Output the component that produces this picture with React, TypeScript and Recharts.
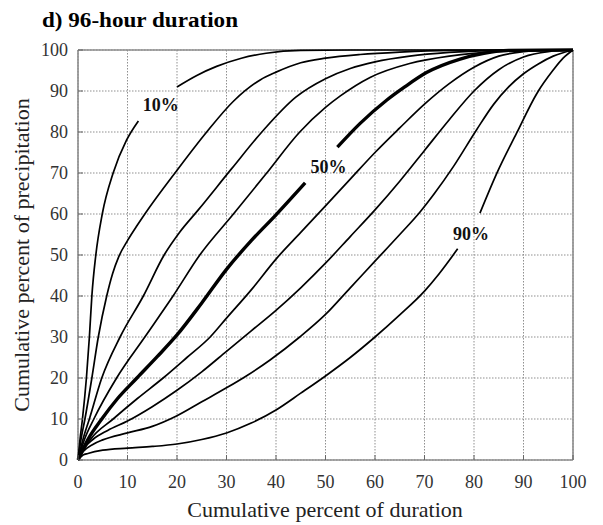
import {
  LineChart,
  Line,
  XAxis,
  YAxis,
  CartesianGrid,
  ReferenceDot,
} from "recharts";

type Pt = [number, number | null];

const FONT = '"Liberation Serif", "Times New Roman", serif';

const xTicks = [0, 10, 20, 30, 40, 50, 60, 70, 80, 90, 100];
const yTicks = [0, 10, 20, 30, 40, 50, 60, 70, 80, 90, 100];
const edges = [0, 100];

// cumulative curves, one per quantile (null = gap left for the label)
const p10: Pt[] = [
  [0, 0], [0.4, 5], [0.9, 10], [1.7, 20], [2.3, 30], [2.8, 40], [3.6, 50], [4.9, 60],
  [7.1, 70], [9.8, 78], [12.2, 82.7], [16, null], [20, 91], [24, 93.8], [28, 96],
  [33, 98], [38, 99.2], [45, 99.9], [55, 100], [100, 100],
];
const p20: Pt[] = [
  [0, 0], [0.6, 5], [1.4, 10], [2.8, 20], [4.1, 30], [5.8, 40], [7, 45.5], [8.2, 49.5],
  [10, 53.5], [12, 57.3], [13.5, 60], [19.9, 70.5], [26, 80], [31.4, 87.5], [36.8, 92.7],
  [40, 94.6], [45, 96.9], [50, 98], [57, 98.9], [65, 99.5], [75, 99.9], [100, 100],
];
const p30: Pt[] = [
  [0, 0], [1, 5], [2.3, 10], [4.8, 20], [8.5, 30], [13.2, 40], [17.4, 50], [20.5, 55.5],
  [24.3, 61], [31, 71], [37.5, 80.5], [44, 88.5], [50, 93], [55, 95.5], [60, 97.1],
  [67, 98.5], [75, 99.4], [85, 99.9], [100, 100],
];
const p40: Pt[] = [
  [0, 0], [1.3, 5], [3.2, 10], [7.8, 20], [13.5, 30], [19.2, 40], [24.6, 50], [31.4, 60],
  [38, 69.8], [44.8, 80], [50, 86], [53, 88.8], [59, 93.3], [67, 96.7], [75, 98.5],
  [85, 99.6], [100, 100],
];
const p50: Pt[] = [
  [0, 0], [2, 5], [4.8, 10], [8, 15], [11.9, 20], [16, 25.2], [20, 30.5], [25, 38.3],
  [30, 46.5], [35, 53.5], [40, 59.8], [45.9, 67.6], [49, null], [52.4, 76.3], [57, 82.1],
  [62.4, 87.8], [66, 91], [70.4, 94.5], [77.2, 97.8], [82, 99.2], [87, 99.9], [100, 100],
];
const p60: Pt[] = [
  [0, 0], [2.5, 5], [7.1, 10], [12, 15], [17.2, 20], [22, 25], [26.7, 30], [30, 34.6],
  [35, 41.5], [40, 49], [45, 55.5], [50, 62], [55, 68.5], [60, 75], [65, 81], [70, 86.8],
  [75, 91.8], [80, 95.8], [85, 98.5], [90, 99.6], [95, 100], [100, 100],
];
const p70: Pt[] = [
  [0, 0], [1, 2.5], [3, 5], [6, 7.2], [10, 9.5], [15, 13], [20, 17], [25, 21.5],
  [30, 26.5], [35, 31.5], [40, 36.5], [45, 42], [50, 48], [55, 54.5], [60, 61], [65, 68],
  [70, 75.5], [75, 83], [80, 90], [85, 95.2], [90, 98.3], [95, 99.6], [100, 100],
];
const p80: Pt[] = [
  [0, 0], [1, 2], [3, 3.8], [5, 4.9], [10, 6.6], [15, 8.2], [20, 10.8], [25, 14.2],
  [30, 17.6], [34, 20.5], [38.8, 24.4], [44.8, 30], [50, 35.5], [55, 42],
  [60, 48.5], [65, 55], [69.1, 60.5], [72, 65], [75.8, 71.5], [80.5, 80.5], [84, 86.8],
  [87, 91], [90, 94.2], [93, 96.6], [96, 98.5], [100, 100],
];
const p90: Pt[] = [
  [0, 0], [1, 1.2], [2, 1.6], [5, 2.4], [10, 2.9], [15, 3.3], [20, 3.9], [25, 5],
  [30, 6.6], [35, 9], [40, 12.2], [45, 16.3], [50, 20.5], [55, 25], [60, 30], [65, 35.4],
  [70, 41.2], [73, 45.5], [76.7, 51.5], [79, null], [81.2, 60.2], [84.6, 69.9], [88.6, 79.7],
  [92.7, 89.4], [96, 95.1], [98, 98], [100, 100],
];

const curveNames = ["10%", "20%", "30%", "40%", "50%", "60%", "70%", "80%", "90%"];
const curvePoints = [p10, p20, p30, p40, p50, p60, p70, p80, p90];

// labelled quantiles and where their text sits (data units)
const labelText = ["10%", "50%", "90%"];
const labelX = [16.7, 50.6, 79.4];
const labelY = [86.7, 71.6, 55.3];

const toRows = (pts: Pt[]) => pts.map(([x, y]) => ({ x, y }));
const frameRows = xTicks.map((x) => ({ x }));

export default function App() {
  return (
    <div
      style={{
        position: "absolute",
        left: 0,
        top: 0,
        width: 603,
        height: 525,
        background: "#fff",
      }}
    >
      <LineChart
        width={603}
        height={525}
        data={frameRows}
        margin={{ top: 50, right: 30, bottom: 0, left: 0 }}
      >
        <CartesianGrid stroke="#8f8f8f" strokeWidth={1} strokeDasharray="1.5 1.5" />
        {/* box around the plot */}
        <CartesianGrid
          stroke="#8c8c8c"
          strokeWidth={1.6}
          horizontalValues={edges}
          verticalValues={edges}
        />
        <XAxis
          dataKey="x"
          type="number"
          domain={[0, 100]}
          ticks={xTicks}
          height={65}
          axisLine={false}
          tickSize={-5}
          tickMargin={20}
          tickLine={{ stroke: "#666" }}
          tick={{ fontFamily: FONT, fontSize: 18, fill: "#333" }}
        />
        <YAxis
          type="number"
          domain={[0, 100]}
          ticks={yTicks}
          width={78}
          axisLine={false}
          tickSize={-5}
          tickMargin={15}
          tickLine={{ stroke: "#666" }}
          tick={{ fontFamily: FONT, fontSize: 18, fill: "#333" }}
        />
        {curvePoints.map((pts, i) => (
          <Line
            key={curveNames[i]}
            name={curveNames[i]}
            data={toRows(pts)}
            dataKey="y"
            type="monotone"
            stroke="#000"
            strokeWidth={curveNames[i] === "50%" ? 3.4 : 1.7}
            dot={false}
            activeDot={false}
            isAnimationActive={false}
          />
        ))}
        {labelText.map((t, i) => (
          <ReferenceDot
            key={t}
            x={labelX[i]}
            y={labelY[i]}
            r={0}
            fill="none"
            stroke="none"
            label={{
              value: t,
              position: "center",
              fontFamily: FONT,
              fontWeight: 700,
              fontSize: 18,
              fill: "#111",
            }}
          />
        ))}
      </LineChart>
      <svg
        width={603}
        height={525}
        style={{ position: "absolute", left: 0, top: 0, pointerEvents: "none" }}
      >
        <text
          x={42}
          y={27}
          fontFamily={FONT}
          fontWeight={700}
          fontSize={20}
          fill="#000"
          textLength={196}
          lengthAdjust="spacingAndGlyphs"
        >
          d) 96-hour duration
        </text>
        <text
          x={325}
          y={517}
          textAnchor="middle"
          fontFamily={FONT}
          fontSize={22}
          fill="#222"
        >
          Cumulative percent of duration
        </text>
        <text
          transform="translate(29,255) rotate(-90)"
          textAnchor="middle"
          fontFamily={FONT}
          fontSize={22}
          fill="#222"
        >
          Cumulative percent of precipitation
        </text>
      </svg>
    </div>
  );
}
